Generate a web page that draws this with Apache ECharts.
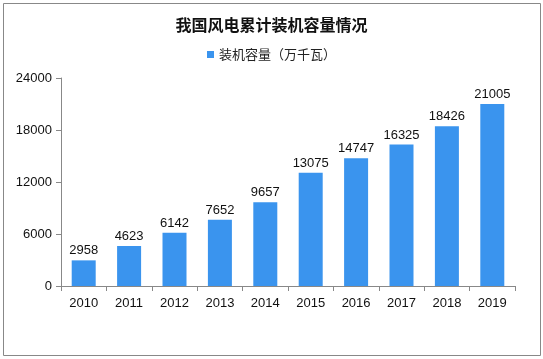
<!DOCTYPE html>
<html><head><meta charset="utf-8">
<script src="https://cdn.jsdelivr.net/npm/echarts@6/dist/echarts.min.js"></script>
<style>html,body{margin:0;padding:0;background:#fff}#c{width:543px;height:359px}</style>
</head><body><div id="c"></div>
<script>
const categories = ['2010','2011','2012','2013','2014','2015','2016','2017','2018','2019'];
const capacity = [2958,4623,6142,7652,9657,13075,14747,16325,18426,21005];
const seriesName = '装机容量（万千瓦）';
const titleText = '我国风电累计装机容量情况';
const yTicks = [0,6000,12000,18000,24000];

const chart = echarts.init(document.getElementById('c'), null, {renderer:'canvas'});
chart.setOption({
  animation:false,
  backgroundColor:'#fff',
  title:{text:titleText,left:'center',top:12,textStyle:{fontSize:16,fontWeight:'bold',color:'#111',fontFamily:'Noto Sans CJK SC'}},
  legend:{data:[seriesName],top:43,left:'center',icon:'rect',itemWidth:7,itemHeight:7,itemGap:3,
    textStyle:{fontSize:13,color:'#222',fontFamily:'Noto Sans CJK SC'}},
  grid:{left:61,right:28,top:78,bottom:73},
  xAxis:{type:'category',data:categories,
    axisLine:{lineStyle:{color:'#888'}},
    axisTick:{show:true,alignWithLabel:false,length:5,lineStyle:{color:'#888'}},
    axisLabel:{color:'#111',fontSize:13,margin:11,fontFamily:'Liberation Sans'}},
  yAxis:{type:'value',min:0,max:24000,interval:6000,
    axisLine:{show:true,lineStyle:{color:'#888'}},
    axisTick:{show:true,length:5,lineStyle:{color:'#888'}},
    splitLine:{show:false},
    axisLabel:{color:'#111',fontSize:13,margin:9,fontFamily:'Liberation Sans',
      formatter:v=>yTicks.includes(v)?String(v):''}},
  series:[{name:seriesName,type:'bar',data:capacity,barWidth:24,
    itemStyle:{color:'#3a94ee'},
    label:{show:true,position:'top',color:'#111',fontSize:13,distance:3,fontFamily:'Liberation Sans'}}],
  graphic:[{type:'rect',shape:{x:3.5,y:3.5,width:537,height:352},style:{fill:'none',stroke:'#888',lineWidth:1},silent:true}]
});
</script></body></html>
